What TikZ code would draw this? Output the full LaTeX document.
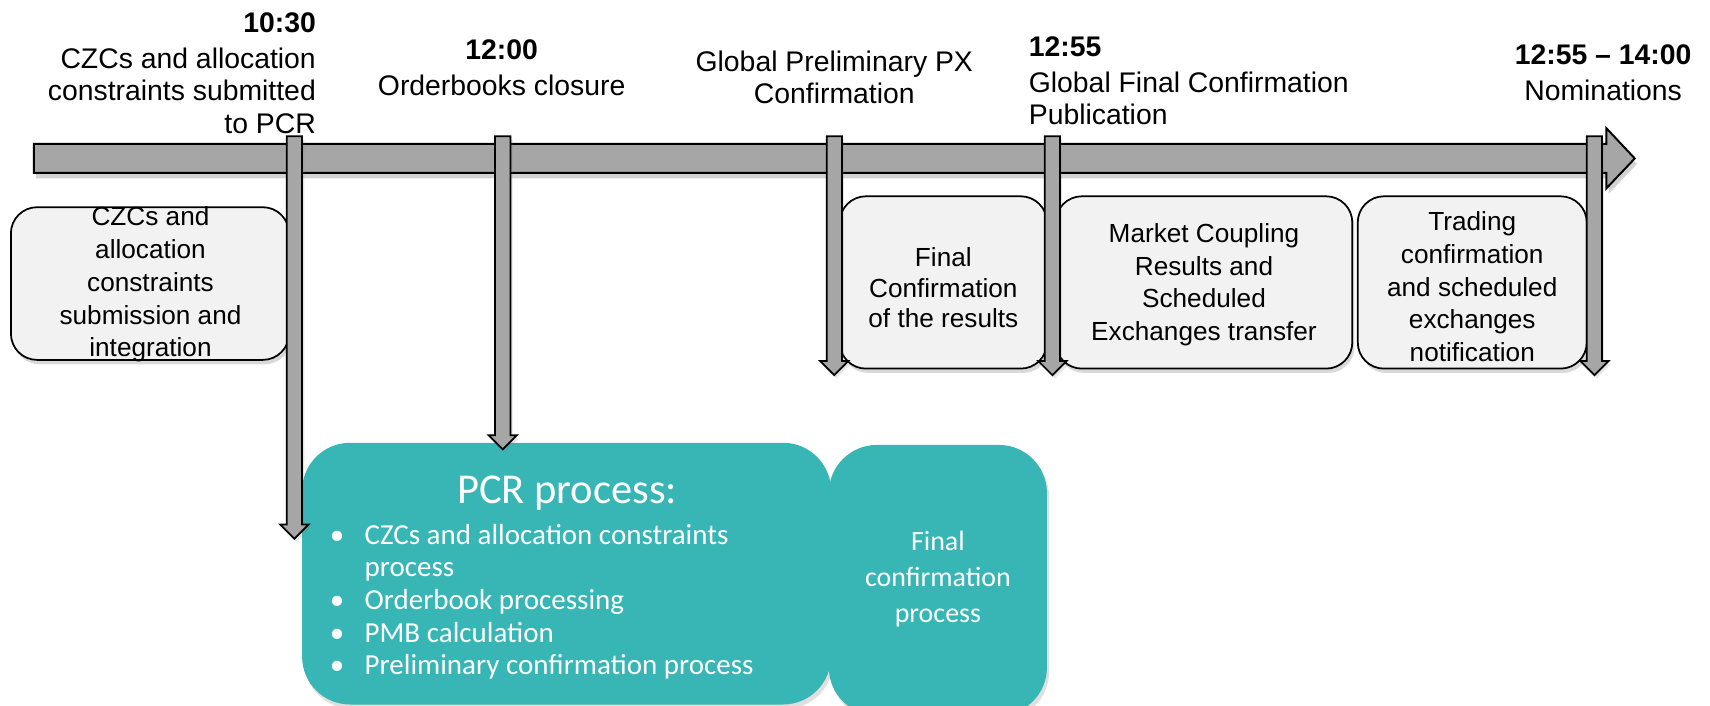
\documentclass[tikz,border=0pt]{standalone}
\usepackage{fontspec}
\setmainfont{Liberation Sans}
\newfontfamily\calib{Carlito}
\usetikzlibrary{shadows,calc}
\definecolor{shaftgray}{HTML}{A6A6A6}
\definecolor{boxgray}{HTML}{F2F2F2}
\definecolor{tealbox}{HTML}{38B6B6}
\newcommand\stemarrow[2]{\draw[stemstyle] ($(#1)+(-7,0)$) -- ($(#1)+(7,0)$) -- ($(#2)+(7,-13)$) -- ($(#2)+(13,-13)$) -- (#2) -- ($(#2)+(-13,-13)$) -- ($(#2)+(-7,-13)$) -- cycle;}
\newcommand\bulletitem{\makebox[17pt][l]{\hspace*{1pt}•}}
\begin{document}
\begin{tikzpicture}[x=0.5pt,y=-0.5pt,
  toptext/.style={inner sep=0pt, font=\fontsize{13}{15}\selectfont},
  boxtext/.style={inner sep=0pt, align=center, font=\fontsize{12}{15}\selectfont},
  graybox/.style={draw=black, line width=0.8pt, fill=boxgray, rounded corners=12pt,
     drop shadow={opacity=0.3, shadow xshift=1pt, shadow yshift=-2pt}},
  tealstyle/.style={fill=tealbox, rounded corners=22pt,
     drop shadow={opacity=0.25, shadow xshift=1pt, shadow yshift=-2pt}},
  stemstyle/.style={draw=black, line width=0.8pt, fill=shaftgray, line join=miter,
     drop shadow={opacity=0.2, shadow xshift=1pt, shadow yshift=-1.5pt}},
  shaftstyle/.style={draw=black, line width=0.9pt, fill=shaftgray,
     drop shadow={opacity=0.35, shadow xshift=1pt, shadow yshift=-2.5pt}},
  whitetext/.style={inner sep=0pt, text=white}
]
\useasboundingbox (0,0) rectangle (1568,647);

% main timeline arrow
\coordinate (tl0) at (31,132);
\coordinate (tlend) at (1499,145.3);
\draw[shaftstyle] (tl0) -- (1473,132) -- (1473,117.6) -- (tlend) -- (1473,172.7) -- (1473,158.6) -- (31,158.6) -- cycle;

% top labels
\node[toptext, anchor=north east, align=right] (t1) at (290,11)
  {\textbf{10:30}\\[1.5pt]CZCs and allocation\\constraints submitted\\to PCR};
\node[toptext, anchor=north, align=center] (t2) at (460,36)
  {\textbf{12:00}\\[1.5pt]Orderbooks closure};
\node[toptext, anchor=north, align=center] (t3) at (765,46)
  {Global Preliminary PX\\Confirmation};
\node[toptext, anchor=north west, align=left] (t4) at (943,33)
  {\textbf{12:55}\\[1.5pt]Global Final Confirmation\\Publication};
\node[toptext, anchor=north, align=center] (t5) at (1470,41)
  {\textbf{12:55 – 14:00}\\[1.5pt]Nominations};

% gray boxes
\node[graybox, minimum width=127.5pt, minimum height=70pt] (b1) at (137.5,260) {};
\node[boxtext] (b1t) at (138,261) {CZCs and\\allocation\\constraints\\submission and\\integration};
\node[graybox, minimum width=95pt, minimum height=79pt] (b2) at (865,259) {};
\node[boxtext, font=\fontsize{12}{14}\selectfont] (b2t) at (865,264) {Final\\Confirmation\\of the results};
\node[graybox, minimum width=136pt, minimum height=79pt] (b3) at (1104,259) {};
\node[boxtext] (b3t) at (1104,261) {Market Coupling\\Results and\\Scheduled\\Exchanges transfer};
\node[graybox, minimum width=105pt, minimum height=79pt] (b4) at (1350,259) {};
\node[boxtext] (b4t) at (1350,263) {Trading\\confirmation\\and scheduled\\exchanges\\notification};

% teal boxes
\node[tealstyle, minimum width=242.5pt, minimum height=120pt] (pcr) at (519.5,526) {};
\node[tealstyle, minimum width=100pt, minimum height=124pt] (fin) at (860,532) {};
\node[whitetext, font=\calib\fontsize{19.5}{22}\selectfont] (pcrt) at (520,452) {PCR process:};
\node[whitetext, anchor=north west, align=left, font=\calib\fontsize{13.3}{15}\selectfont] (pcrl) at (300,480)
  {\bulletitem CZCs and allocation constraints\\
   \hspace*{17pt}process\\
   \bulletitem Orderbook processing\\
   \bulletitem PMB calculation\\
   \bulletitem Preliminary confirmation process};
\node[whitetext, align=center, font=\calib\fontsize{12.8}{16.5}\selectfont] (fint) at (860,531)
  {Final\\confirmation\\process};

% stems
\coordinate (s1top) at (270,125); \coordinate (s1tip) at (270,494);
\coordinate (s2top) at (461,125); \coordinate (s2tip) at (461,412);
\coordinate (s3top) at (765,125); \coordinate (s3tip) at (765,344);
\coordinate (s4top) at (965,125); \coordinate (s4tip) at (965,344);
\coordinate (s5top) at (1462,125); \coordinate (s5tip) at (1462,344);
\stemarrow{s1top}{s1tip}
\stemarrow{s2top}{s2tip}
\stemarrow{s3top}{s3tip}
\stemarrow{s4top}{s4tip}
\stemarrow{s5top}{s5tip}
\end{tikzpicture}
\end{document}
